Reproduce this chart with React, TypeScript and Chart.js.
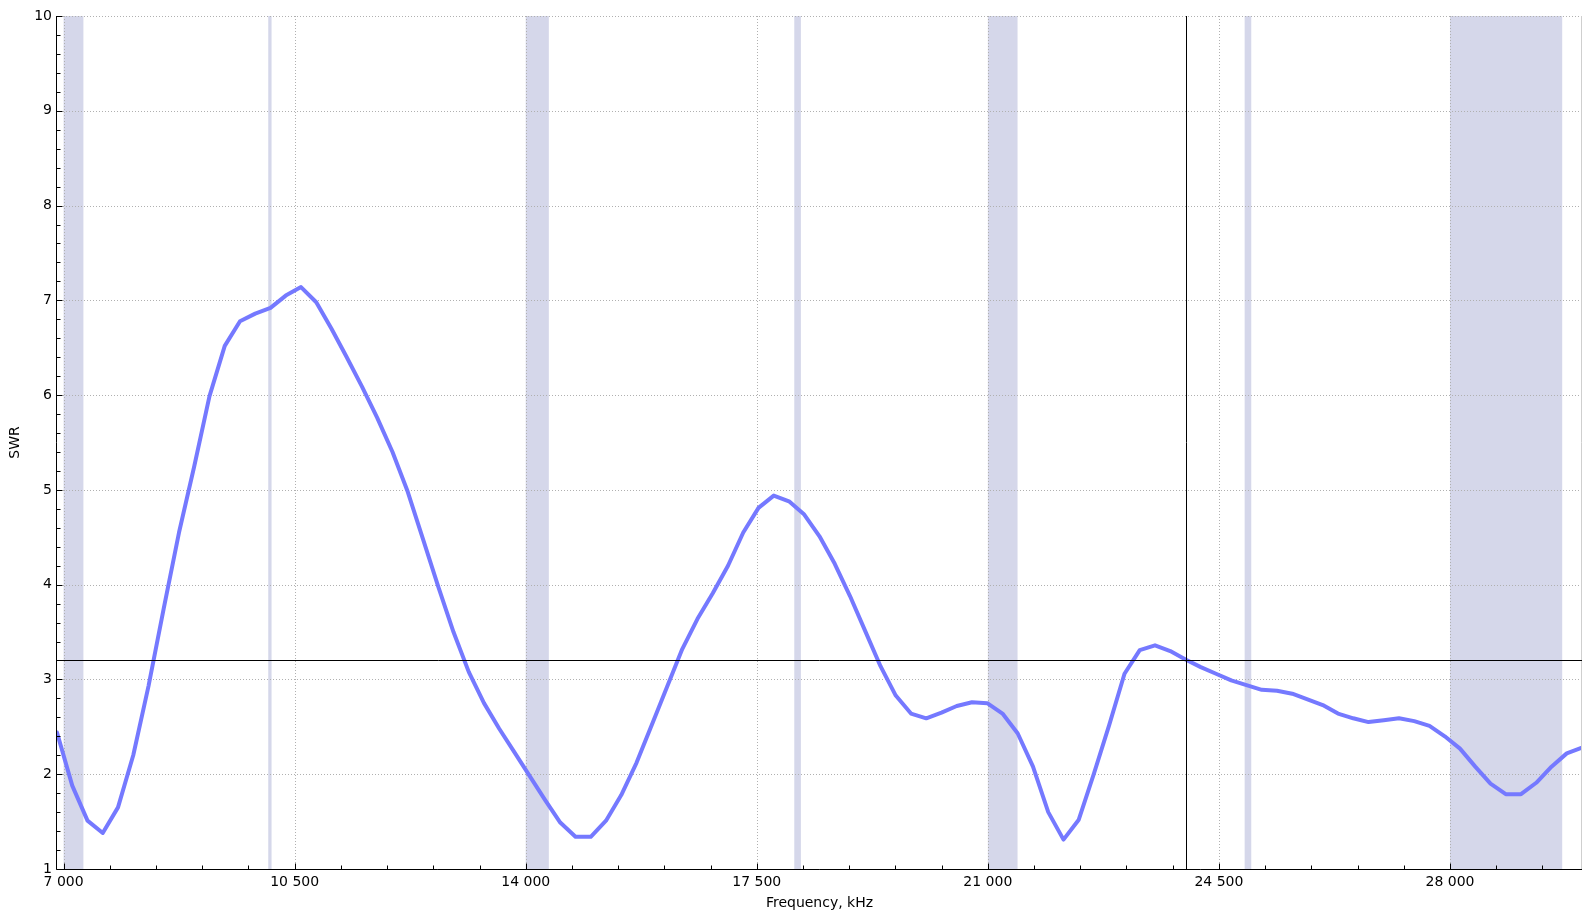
import React, { useEffect, useRef } from "react";
import { Chart, registerables } from "chart.js";

Chart.register(...registerables);

const FREQ_KHZ = [
  6900, 7131, 7362, 7593, 7824, 8055, 8286, 8517, 8748, 8979,
  9210, 9441, 9672, 9903, 10134, 10365, 10596, 10827, 11058, 11289,
  11520, 11751, 11982, 12213, 12444, 12675, 12906, 13137, 13368, 13599,
  13830, 14061, 14292, 14523, 14754, 14985, 15216, 15447, 15678, 15909,
  16140, 16371, 16602, 16833, 17064, 17295, 17526, 17757, 17988, 18219,
  18450, 18681, 18912, 19143, 19374, 19605, 19836, 20067, 20298, 20529,
  20760, 20991, 21222, 21453, 21684, 21915, 22146, 22377, 22608, 22839,
  23070, 23301, 23532, 23763, 23994, 24225, 24456, 24687, 24918, 25149,
  25380, 25611, 25842, 26073, 26304, 26535, 26766, 26997, 27228, 27459,
  27690, 27921, 28152, 28383, 28614, 28845, 29076, 29307, 29538, 29769,
  30000,
];

const SWR = [
  2.44, 1.88, 1.51, 1.38, 1.65, 2.2, 2.93, 3.75, 4.55, 5.25,
  5.99, 6.52, 6.78, 6.86, 6.92, 7.05, 7.14, 6.98, 6.7, 6.4,
  6.09, 5.76, 5.4, 4.98, 4.48, 3.98, 3.5, 3.08, 2.75, 2.48,
  2.23, 1.98, 1.73, 1.49, 1.34, 1.34, 1.51, 1.78, 2.12, 2.52,
  2.92, 3.32, 3.64, 3.91, 4.2, 4.55, 4.81, 4.94, 4.88, 4.74,
  4.51, 4.22, 3.88, 3.51, 3.14, 2.83, 2.64, 2.59, 2.65, 2.72,
  2.76, 2.75, 2.64, 2.43, 2.08, 1.6, 1.31, 1.52, 2.01, 2.52,
  3.06, 3.31, 3.36, 3.3, 3.21, 3.13, 3.06, 2.99, 2.94, 2.89,
  2.88, 2.85, 2.79, 2.73, 2.64, 2.59, 2.55, 2.57, 2.59, 2.56,
  2.51, 2.4, 2.27, 2.08, 1.9, 1.79, 1.79, 1.91, 2.08, 2.22,
  2.28,
];

const BAND_STARTS_KHZ = [7000, 10100, 14000, 18068, 21000, 24890, 28000];
const BAND_ENDS_KHZ = [7300, 10150, 14350, 18168, 21450, 24990, 29700];

const X_MAJOR_TICKS = [7000, 10500, 14000, 17500, 21000, 24500, 28000];
const X_MINOR_STEP = 700;
const Y_TICKS = [1, 2, 3, 4, 5, 6, 7, 8, 9, 10];
const Y_MINOR_STEP = 0.2;
const X_MIN = 6900;
const X_MAX = 30000;
const CURSOR_INDEX = 74;

const X_TITLE = "Frequency, kHz";
const Y_TITLE = "SWR";

const FONT = "'DejaVu Sans', Verdana, sans-serif";
const BAND_COLOR = "rgb(213, 215, 234)";
const GRID_COLOR = "#b0b0b0";
const LINE_COLOR = "rgb(117, 121, 255)";

function fmtThousands(v: number): string {
  const s = String(Math.round(v));
  return s.replace(/\B(?=(\d{3})+(?!\d))/g, " ");
}

const decorPlugin = {
  id: "decor",
  beforeDatasetsDraw(chart: any) {
    const { ctx, chartArea: a, scales } = chart;
    const x = scales.x;
    const y = scales.y;
    ctx.save();
    ctx.fillStyle = BAND_COLOR;
    for (let i = 0; i < BAND_STARTS_KHZ.length; i++) {
      const x0 = x.getPixelForValue(BAND_STARTS_KHZ[i]);
      const x1 = x.getPixelForValue(BAND_ENDS_KHZ[i]);
      ctx.fillRect(x0, a.top, x1 - x0, a.bottom - a.top);
    }
    ctx.strokeStyle = GRID_COLOR;
    ctx.lineWidth = 1;
    ctx.setLineDash([1, 2]);
    ctx.beginPath();
    for (const v of X_MAJOR_TICKS) {
      const px = Math.round(x.getPixelForValue(v)) + 0.5;
      ctx.moveTo(px, a.top);
      ctx.lineTo(px, a.bottom);
    }
    for (const v of Y_TICKS) {
      const py = Math.round(y.getPixelForValue(v)) + 0.5;
      ctx.moveTo(a.left, py);
      ctx.lineTo(a.right, py);
    }
    ctx.stroke();
    ctx.restore();
  },
  afterDatasetsDraw(chart: any) {
    const { ctx, chartArea: a, scales } = chart;
    const x = scales.x;
    const y = scales.y;
    const left = Math.round(a.left) - 0.5;
    const bottom = Math.round(a.bottom) + 0.5;
    const right = Math.round(a.right) - 0.5;
    ctx.save();
    ctx.lineWidth = 1;
    // right frame
    ctx.strokeStyle = "#cfcfcf";
    ctx.beginPath();
    ctx.moveTo(right, a.top);
    ctx.lineTo(right, a.bottom);
    ctx.stroke();
    // crosshair
    ctx.strokeStyle = "#000";
    const cx = Math.round(x.getPixelForValue(FREQ_KHZ[CURSOR_INDEX])) + 0.5;
    const cy = Math.round(y.getPixelForValue(SWR[CURSOR_INDEX])) + 0.5;
    ctx.beginPath();
    ctx.moveTo(cx, a.top);
    ctx.lineTo(cx, a.bottom);
    ctx.moveTo(a.left, cy);
    ctx.lineTo(a.right, cy);
    ctx.stroke();
    // axes
    ctx.beginPath();
    ctx.moveTo(left, a.top);
    ctx.lineTo(left, bottom);
    ctx.moveTo(left, bottom);
    ctx.lineTo(a.right, bottom);
    // x ticks
    for (let v = X_MAJOR_TICKS[0]; v <= X_MAX; v += X_MINOR_STEP) {
      const px = Math.round(x.getPixelForValue(v)) + 0.5;
      const major = X_MAJOR_TICKS.includes(v);
      ctx.moveTo(px, bottom);
      ctx.lineTo(px, bottom - (major ? 6 : 4));
    }
    // y ticks
    for (let k = 0; k <= 45; k++) {
      const v = 1 + k * Y_MINOR_STEP;
      const py = Math.round(y.getPixelForValue(v)) + 0.5;
      const major = k % 5 === 0;
      ctx.moveTo(left, py);
      ctx.lineTo(left + (major ? 6 : 4), py);
    }
    ctx.stroke();
    ctx.restore();
  },
};

export default function App() {
  const ref = useRef<HTMLCanvasElement>(null);
  useEffect(() => {
    document.body.style.margin = "0";
    const data = FREQ_KHZ.map((f, i) => ({ x: f, y: SWR[i] }));
    const chart = new Chart(ref.current as HTMLCanvasElement, {
      type: "line",
      data: {
        datasets: [
          {
            data,
            borderColor: LINE_COLOR,
            borderWidth: 4,
            pointRadius: 0,
            tension: 0,
            fill: false,
            borderJoinStyle: "round",
            borderCapStyle: "round",
          } as any,
        ],
      },
      options: {
        animation: false,
        responsive: false,
        devicePixelRatio: 1,
        layout: { padding: { left: 0, right: 14, top: 16, bottom: 0 } },
        plugins: { legend: { display: false }, tooltip: { enabled: false } },
        scales: {
          x: {
            type: "linear",
            min: X_MIN,
            max: X_MAX,
            grid: { display: false, drawTicks: false },
            border: { display: false },
            afterBuildTicks: (s: any) => {
              s.ticks = X_MAJOR_TICKS.map((v) => ({ value: v }));
            },
            afterFit: (s: any) => {
              s.height = 50;
            },
            ticks: {
              autoSkip: false,
              maxRotation: 0,
              padding: 5,
              color: "#000",
              font: { family: FONT, size: 14 },
              callback: (v: any) => fmtThousands(Number(v)),
            },
            title: {
              display: true,
              text: X_TITLE,
              color: "#000",
              font: { family: FONT, size: 14 },
              padding: { top: 0, bottom: 7 },
            },
          },
          y: {
            type: "linear",
            min: 1,
            max: 10,
            grid: { display: false, drawTicks: false },
            border: { display: false },
            afterFit: (s: any) => {
              s.width = 57;
            },
            ticks: {
              stepSize: 1,
              padding: 5,
              color: "#000",
              font: { family: FONT, size: 14 },
              callback: (v: any) => String(v),
            },
            title: {
              display: true,
              text: Y_TITLE,
              color: "#000",
              font: { family: FONT, size: 14 },
              padding: { top: 7, bottom: 0 },
            },
          },
        },
      },
      plugins: [decorPlugin],
    });
    return () => chart.destroy();
  }, []);
  return (
    <canvas
      ref={ref}
      width={1596}
      height={919}
      style={{ display: "block", width: 1596, height: 919 }}
    />
  );
}
